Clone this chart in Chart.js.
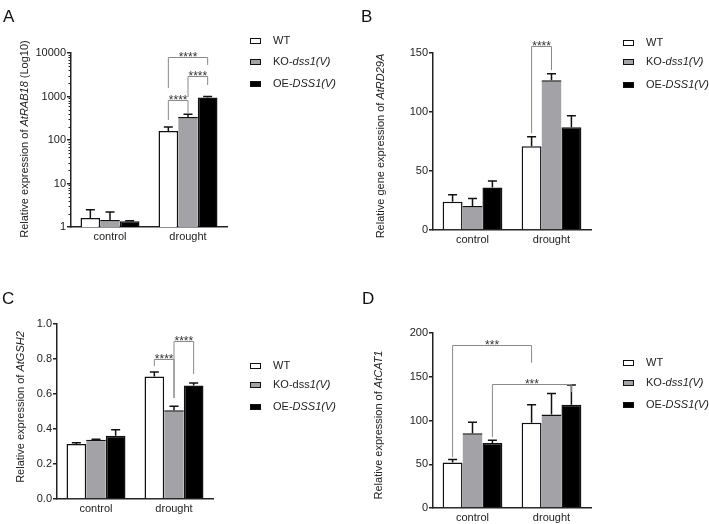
<!DOCTYPE html>
<html>
<head>
<meta charset="utf-8">
<script src="https://cdn.jsdelivr.net/npm/chart.js@4.4.1/dist/chart.umd.min.js"></script>
<style>
  html, body { margin: 0; padding: 0; background: #fff; }
  #fig { position: relative; width: 709px; height: 524px; overflow: hidden;
         font-family: "Liberation Sans", Arial, sans-serif; color: #222; }
  #fig canvas { position: absolute; left: 0; top: 0; }
  .letter { position: absolute; font-size: 17px; line-height: 1; color: #111; }
  .ytitle { position: absolute; font-size: 11px; line-height: 1; white-space: nowrap;
            transform: translate(-50%, -50%) rotate(-90deg); }
  .lbox { position: absolute; width: 9px; height: 4px; border: 1.5px solid #111; }
  .ltxt { position: absolute; font-size: 11px; line-height: 1; white-space: nowrap; }
</style>
</head>
<body>
<div id="fig"></div>
<script>
// shared
const categories = ['control', 'drought'];
const groups = ['WT', 'KO-dss1(V)', 'OE-DSS1(V)'];
const fills = ['#ffffff', '#a3a3a7', '#000000'];

// Panel A - AtRAB18, log10 axis
const aMeans = [[1.6, 160], [1.45, 340], [1.35, 950]];
const aErrTop = [[2.5, 200], [2.2, 390], [1.4, 1000]];
const aTicks = [1, 10, 100, 1000, 10000];
const aTickLabels = ['1', '10', '100', '1000', '10000'];
// [cat1, group1, cat2, group2, bar height, left leg end, right leg end, label]
const aBrackets = [
  [1, 0, 1, 1, 830, 288, 418, '****'],
  [1, 0, 1, 2, 8090, 1570, 5300, '****'],
  [1, 1, 1, 2, 2960, 975, 1840, '****']
];

// Panel B - AtRD29A
const bMeans = [[24, 71], [20.3, 127], [36, 87]];
const bErrTop = [[29.8, 79], [26.7, 132.4], [41.5, 96.8]];
const bTicks = [0, 50, 100, 150];
const bTickLabels = ['0', '50', '100', '150'];
const bBrackets = [[1, 0, 1, 1, 156, 82, 135.5, '****']];

// Panel C - AtGSH2
const cMeans = [[0.315, 0.70], [0.338, 0.507], [0.362, 0.648]];
const cErrTop = [[0.322, 0.726], [0.342, 0.53], [0.396, 0.663]];
const cTicks = [0, 0.2, 0.4, 0.6, 0.8, 1.0];
const cTickLabels = ['0.0', '0.2', '0.4', '0.6', '0.8', '1.0'];
const cBrackets = [
  [1, 0, 1, 1, 0.8, 0.76, 0.577, '****'],
  [1, 1, 1, 2, 0.903, 0.577, 0.714, '****']
];

// Panel D - AtCAT1
const dMeans = [[52, 97.5], [85.5, 107], [74.2, 118]];
const dErrTop = [[55.5, 118], [98, 131], [77.5, 140.5]];
const dTicks = [0, 50, 100, 150, 200];
const dTickLabels = ['0', '50', '100', '150', '200'];
const dBrackets = [
  [0, 0, 1, 0, 186, 58, 166, '***'],
  [0, 2, 1, 2, 142, 81, 132.5, '***']
];

const W = 709, H = 524;
const Y_W = 40, X_H = 20;
const ink = '#222';

Chart.defaults.font.family = '"Liberation Sans", Arial, sans-serif';
Chart.defaults.font.size = 11;
Chart.defaults.color = ink;

const fig = document.getElementById('fig');

// error bars, significance brackets, log minor ticks
const extras = {
  id: 'extras',
  afterDatasetsDraw(chart, args, opts) {
    const ctx = chart.ctx;
    const y = chart.scales.y;
    const p = opts.panel;
    ctx.save();
    // error bars (upper only)
    ctx.strokeStyle = '#111';
    ctx.lineWidth = 1.5;
    p.errTop.forEach((arr, i) => {
      chart.getDatasetMeta(i).data.forEach((bar, j) => {
        const yt = y.getPixelForValue(arr[j]);
        ctx.beginPath();
        ctx.moveTo(bar.x, bar.y);
        ctx.lineTo(bar.x, yt);
        ctx.moveTo(bar.x - 4.5, yt);
        ctx.lineTo(bar.x + 4.5, yt);
        ctx.stroke();
      });
    });
    // brackets
    ctx.strokeStyle = '#8a8a8a';
    ctx.lineWidth = 1;
    ctx.fillStyle = '#333';
    ctx.font = '12px "Liberation Sans", Arial, sans-serif';
    ctx.textAlign = 'center';
    ctx.textBaseline = 'alphabetic';
    p.brackets.forEach(b => {
      const x1 = chart.getDatasetMeta(b[1]).data[b[0]].x;
      const x2 = chart.getDatasetMeta(b[3]).data[b[2]].x;
      const yb = Math.round(y.getPixelForValue(b[4])) + 0.5;
      ctx.beginPath();
      ctx.moveTo(x1, y.getPixelForValue(b[5]));
      ctx.lineTo(x1, yb);
      ctx.lineTo(x2, yb);
      ctx.lineTo(x2, y.getPixelForValue(b[6]));
      ctx.stroke();
      ctx.fillText(b[7], (x1 + x2) / 2, yb + 3);
    });
    // minor ticks on the log axis
    if (p.log) {
      ctx.strokeStyle = ink;
      ctx.lineWidth = 1;
      for (let k = 0; k < p.ticks.length - 1; k++) {
        for (let m = 2; m < 10; m++) {
          const yy = Math.round(y.getPixelForValue(m * p.ticks[k])) + 0.5;
          ctx.beginPath();
          ctx.moveTo(y.right - 2.5, yy);
          ctx.lineTo(y.right, yy);
          ctx.stroke();
        }
      }
    }
    ctx.restore();
  }
};

function makeChart(p) {
  const canvas = document.createElement('canvas');
  canvas.width = W;
  canvas.height = H;
  fig.appendChild(canvas);
  new Chart(canvas, {
    type: 'bar',
    data: {
      labels: categories,
      datasets: groups.map((g, i) => ({
        label: g,
        data: p.means[i],
        backgroundColor: fills[i],
        borderColor: '#111',
        borderWidth: i === 1 ? { top: 1.5, left: 0, right: 0, bottom: 0 } : 1.5,
        borderSkipped: 'start',
        categoryPercentage: 0.756,
        barPercentage: 1
      }))
    },
    options: {
      responsive: false,
      animation: false,
      events: [],
      layout: {
        autoPadding: false,
        padding: { left: p.left - Y_W, top: p.top, right: W - p.right, bottom: H - p.bottom - X_H }
      },
      plugins: { legend: { display: false }, tooltip: { enabled: false }, extras: { panel: p } },
      scales: {
        x: {
          afterFit: s => { s.height = X_H; },
          ticks: { color: ink, padding: 3, maxRotation: 0, autoSkip: false },
          grid: { display: false, drawTicks: false, tickLength: 0 },
          border: { display: true, color: ink, width: 1.5 }
        },
        y: {
          type: p.log ? 'logarithmic' : 'linear',
          min: p.ticks[0],
          max: p.ticks[p.ticks.length - 1],
          afterBuildTicks: s => { s.ticks = p.ticks.map(v => ({ value: v })); },
          afterFit: s => { s.width = Y_W; },
          ticks: { color: ink, padding: 1, callback: (v, i) => p.tickLabels[i] },
          grid: { drawOnChartArea: false, drawTicks: true, tickLength: 4, color: ink, lineWidth: 1.5 },
          border: { display: true, color: ink, width: 1.5 }
        }
      }
    },
    plugins: [extras]
  });
}

function addText(cls, html, x, y) {
  const d = document.createElement('div');
  d.className = cls;
  d.innerHTML = html;
  d.style.left = x + 'px';
  d.style.top = y + 'px';
  fig.appendChild(d);
}

function addLegend(x, ys, labels) {
  ys.forEach((yc, i) => {
    const b = document.createElement('div');
    b.className = 'lbox';
    b.style.left = x + 'px';
    b.style.top = (yc - 3.5) + 'px';
    b.style.background = fills[i];
    fig.appendChild(b);
    addText('ltxt', labels[i], x + 23, yc - 6);
  });
}

const legendStd = ['WT', 'KO-<i>dss1(V)</i>', 'OE-<i>DSS1(V)</i>'];
const legendC = ['WT', 'KO-dss<i>1(V)</i>', 'OE-<i>DSS1(V)</i>'];

makeChart({ means: aMeans, errTop: aErrTop, ticks: aTicks, tickLabels: aTickLabels, brackets: aBrackets,
            log: true, left: 71, top: 53, right: 227, bottom: 227 });
makeChart({ means: bMeans, errTop: bErrTop, ticks: bTicks, tickLabels: bTickLabels, brackets: bBrackets,
            left: 433, top: 53, right: 591, bottom: 230 });
makeChart({ means: cMeans, errTop: cErrTop, ticks: cTicks, tickLabels: cTickLabels, brackets: cBrackets,
            left: 57, top: 324, right: 213, bottom: 499 });
makeChart({ means: dMeans, errTop: dErrTop, ticks: dTicks, tickLabels: dTickLabels, brackets: dBrackets,
            left: 433, top: 333, right: 591, bottom: 508 });

addText('letter', 'A', 3, 8);
addText('letter', 'B', 361, 8);
addText('letter', 'C', 2, 290);
addText('letter', 'D', 362, 290);

addText('ytitle', 'Relative expression of <i>AtRAB18</i> (Log10)', 24, 139);
addText('ytitle', 'Relative gene expression of <i>AtRD29A</i>', 380, 146);
addText('ytitle', 'Relative expression of <i>AtGSH2</i>', 20, 407);
addText('ytitle', 'Relative expression of <i>AtCAT1</i>', 378, 425);

addLegend(250, [41, 62, 84], legendStd);
addLegend(623, [43, 62, 85], legendStd);
addLegend(250, [366, 385, 407], legendC);
addLegend(623, [363, 383, 405], legendStd);
</script>
</body>
</html>
